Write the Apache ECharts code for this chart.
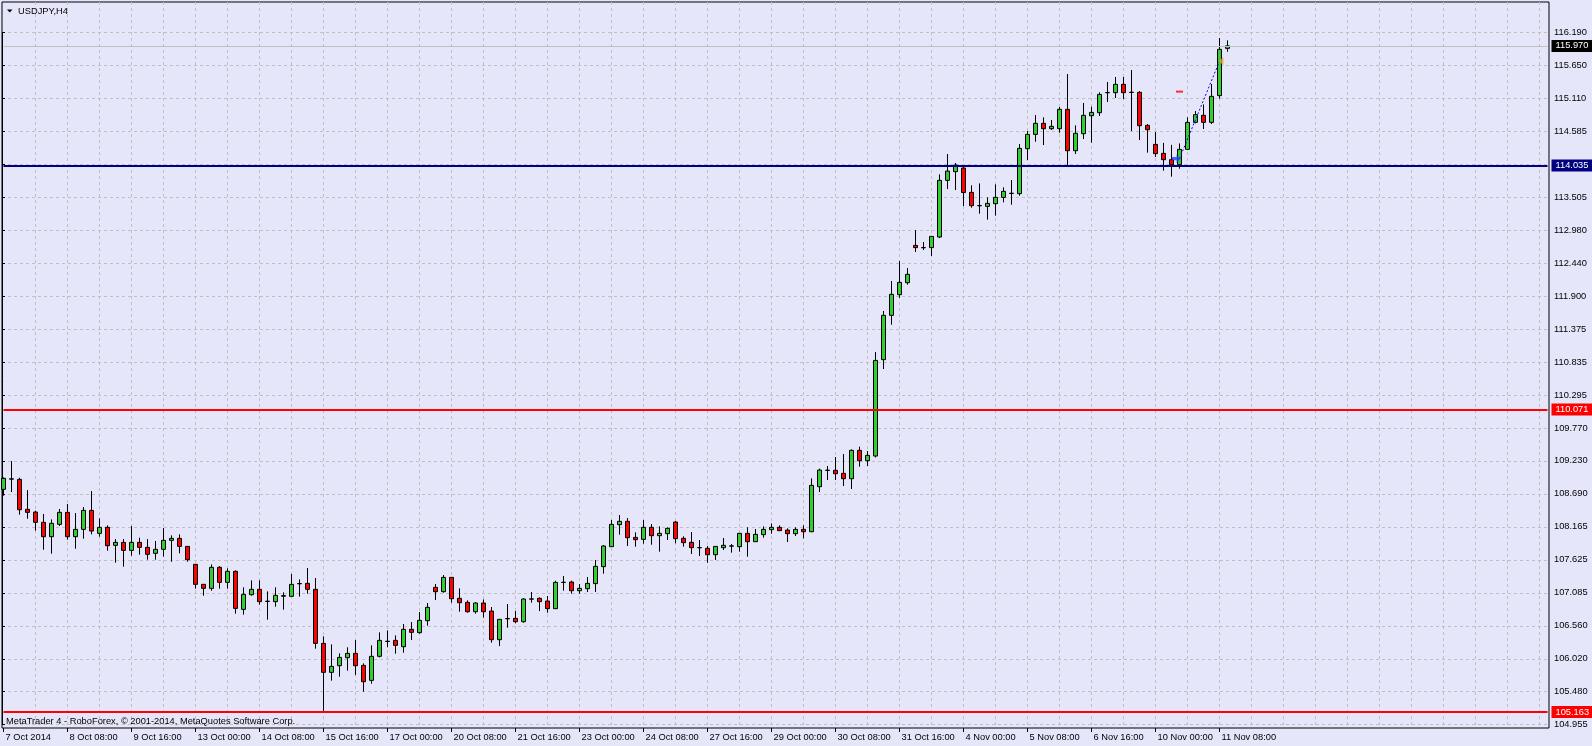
<!DOCTYPE html>
<html><head><meta charset="utf-8">
<script src="https://cdn.jsdelivr.net/npm/echarts@6/dist/echarts.min.js"></script>
<style>html,body{margin:0;padding:0;background:#E6E6FA;}#c{width:1592px;height:746px;}</style>
</head><body><div id="c"></div>
<script>
const symbolName = 'USDJPY,H4';
const footerText = 'MetaTrader 4 - RoboForex, \u00A9 2001-2014, MetaQuotes Software Corp.';

const xTickLabels = ['7 Oct 2014','8 Oct 08:00','9 Oct 16:00','13 Oct 00:00','14 Oct 08:00','15 Oct 16:00','17 Oct 00:00','20 Oct 08:00','21 Oct 16:00','23 Oct 00:00','24 Oct 08:00','27 Oct 16:00','29 Oct 00:00','30 Oct 08:00','31 Oct 16:00','4 Nov 00:00','5 Nov 08:00','6 Nov 16:00','10 Nov 00:00','11 Nov 08:00'];
const yTickLabels = ['104.955','105.480','106.020','106.560','107.085','107.625','108.165','108.690','109.230','109.770','110.295','110.835','111.375','111.900','112.440','112.980','113.505','114.045','114.585','115.110','115.650','116.190'];

const openP = [108.774,108.940,108.936,108.450,108.406,108.239,108.006,108.206,108.401,108.006,108.125,108.433,108.060,108.158,107.866,107.914,107.784,107.914,107.833,107.736,107.801,107.947,107.979,107.849,
107.557,107.233,107.168,107.509,107.265,107.444,106.827,107.065,107.152,106.955,106.952,107.040,107.038,107.242,107.249,107.152,106.275,105.805,105.913,106.043,106.113,105.918,105.675,106.065,106.306,106.324,
106.221,106.503,106.449,106.643,107.184,107.114,107.346,107.006,106.941,106.789,106.930,106.800,106.335,106.674,106.681,106.627,106.993,107.006,106.962,106.838,107.263,107.271,107.130,107.162,107.244,107.520,
107.844,108.201,108.255,107.995,107.963,108.158,108.022,108.055,108.244,107.979,107.914,107.826,107.817,107.714,107.828,107.853,107.844,108.060,107.925,108.039,108.120,108.158,108.114,108.055,108.125,108.087,
108.817,109.081,109.083,109.034,108.947,109.407,109.239,109.315,110.878,111.598,111.933,112.127,112.733,112.694,112.696,112.868,113.788,113.929,113.988,113.593,113.375,113.366,113.409,113.512,113.575,113.572,
114.302,114.534,114.713,114.626,114.626,114.940,114.269,114.545,114.837,114.886,115.209,115.211,115.346,115.214,115.216,114.680,114.372,114.226,114.123,114.042,114.291,114.729,114.843,114.729,115.162,115.930];
const closeP = [108.953,108.945,108.444,108.401,108.239,108.006,108.223,108.401,108.006,108.125,108.433,108.098,108.158,107.860,107.914,107.784,107.914,107.833,107.720,107.801,107.947,107.979,107.849,107.633,
107.233,107.168,107.509,107.265,107.444,106.843,107.071,107.152,106.952,106.960,107.054,107.050,107.233,107.246,107.152,106.275,105.805,105.902,106.048,106.113,105.913,105.653,106.065,106.324,106.310,106.243,
106.503,106.454,106.649,106.860,107.114,107.346,107.000,106.935,106.789,106.930,106.789,106.335,106.665,106.678,106.627,106.995,106.997,106.952,106.838,107.265,107.267,107.130,107.168,107.249,107.525,107.855,
108.206,108.255,107.990,107.958,108.158,108.022,108.060,108.141,107.974,107.909,107.828,107.830,107.714,107.849,107.866,107.857,108.060,107.925,108.044,108.125,108.158,108.104,108.055,108.125,108.087,108.839,
109.088,109.085,109.028,108.947,109.407,109.239,109.326,110.867,111.598,111.938,112.133,112.263,112.696,112.698,112.879,113.788,113.939,114.037,113.590,113.377,113.379,113.415,113.512,113.610,113.579,114.307,
114.534,114.713,114.626,114.664,114.940,114.269,114.551,114.843,114.891,115.183,115.213,115.346,115.211,115.218,114.675,114.610,114.221,114.123,114.042,114.291,114.729,114.854,114.729,115.151,115.914,115.970];
const lowP = [108.671,108.731,108.363,108.298,108.104,107.795,107.730,108.179,107.958,107.811,107.974,108.044,108.006,107.779,107.584,107.519,107.698,107.714,107.633,107.633,107.682,107.600,107.736,107.600,
107.163,107.049,107.130,107.163,107.163,106.757,106.741,107.049,106.903,106.659,106.870,106.822,107.033,107.033,107.081,106.189,105.180,105.670,105.735,105.832,105.762,105.491,105.621,106.048,106.211,106.108,
106.124,106.330,106.432,106.562,106.979,107.098,106.935,106.789,106.773,106.757,106.692,106.286,106.232,106.530,106.600,106.611,106.935,106.800,106.773,106.835,107.130,107.081,107.081,107.108,107.108,107.406,
107.844,108.039,107.855,107.844,107.893,107.876,107.763,107.952,107.898,107.844,107.725,107.692,107.584,107.628,107.790,107.747,107.763,107.682,107.920,107.990,108.055,108.098,107.920,108.017,107.979,108.080,
108.731,108.926,108.926,108.828,108.780,109.142,109.153,109.293,110.727,111.446,111.884,112.095,112.625,112.658,112.560,112.852,113.647,113.631,113.372,113.344,113.247,113.150,113.215,113.431,113.393,113.539,
114.118,114.415,114.361,114.605,114.561,114.037,114.215,114.459,114.399,114.832,115.059,115.124,115.108,114.588,114.442,114.237,114.167,113.945,113.848,113.977,114.280,114.713,114.621,114.702,115.113,115.876];
const highP = [108.969,109.234,108.963,108.763,108.428,108.374,108.287,108.455,108.536,108.390,108.487,108.747,108.304,108.190,107.968,107.968,108.179,107.990,107.968,107.936,108.147,108.028,108.044,107.855,
107.565,107.238,107.557,107.530,107.492,107.460,107.184,107.298,107.298,107.119,107.184,107.103,107.400,107.314,107.498,107.335,106.389,106.259,106.113,106.211,106.330,105.951,106.243,106.454,106.486,106.405,
106.589,106.622,106.784,106.930,107.238,107.384,107.352,107.168,106.973,106.941,106.989,106.865,106.670,106.914,106.800,107.006,107.108,107.022,107.043,107.292,107.368,107.292,107.238,107.352,107.628,107.871,
108.277,108.358,108.309,108.077,108.277,108.212,108.174,108.158,108.260,108.012,108.082,107.952,107.855,107.855,107.985,107.887,108.065,108.158,108.131,108.174,108.222,108.190,108.141,108.158,108.190,108.953,
109.110,109.153,109.299,109.347,109.423,109.467,109.396,111.002,111.668,112.155,112.479,112.365,112.982,112.787,112.885,113.885,114.215,114.070,114.021,113.707,113.739,113.512,113.723,113.674,113.794,114.377,
114.588,114.848,114.810,114.767,114.978,115.513,114.680,115.043,114.983,115.216,115.384,115.465,115.465,115.578,115.238,114.702,114.572,114.396,114.364,114.388,114.810,114.913,115.021,115.351,116.097,116.060];

const levelNavy = 114.035;
const levelsRed = [110.071, 105.163];
const bidPrice = 115.970;
const tradeOpen = [147, 114.14];
const tradeClose = [152, 115.72];
const tpMark = [147, 115.228];

const slotCount = 194;
const yViewMin = 104.902, yViewMax = 116.682;

// bar times (H4, weekdays only) starting 7 Oct 2014 00:00
const months = ['Jan','Feb','Mar','Apr','May','Jun','Jul','Aug','Sep','Oct','Nov','Dec'];
const categories = [];
let t = Date.UTC(2014, 9, 7, 0, 0);
while (categories.length < slotCount) {
  const d = new Date(t);
  const wd = d.getUTCDay();
  if (wd !== 0 && wd !== 6) {
    const h = d.getUTCHours();
    categories.push(d.getUTCDate() + ' ' + months[d.getUTCMonth()] + ' ' + (h < 10 ? '0' : '') + h + ':00');
  }
  t += 4 * 3600 * 1000;
}

const candleData = openP.map((o, i) => [o, closeP[i], lowP[i], highP[i]]);
const yMin = parseFloat(yTickLabels[0]);
const yMax = parseFloat(yTickLabels[yTickLabels.length - 1]);
const yStep = (yMax - yMin) / (yTickLabels.length - 1);
const lastLabelIdx = (xTickLabels.length - 1) * 8;

const F = '"Liberation Sans", Arial, sans-serif';
const FS = 9.3;
const gridDash = [3, 3];

const chart = echarts.init(document.getElementById('c'), null, {renderer: 'canvas'});
const labelShowFn = (i) => i % 8 === 0 && i <= lastLabelIdx;

function levelItem(value, color, width, bg) {
  return {yAxis: value, lineStyle: {color: color, width: width, type: 'solid'},
    label: {backgroundColor: bg, formatter: value.toFixed(3)}};
}

chart.setOption({
  animation: false,
  backgroundColor: '#E6E6FA',
  title: [
    {text: symbolName, left: 18, top: 6, padding: 0, textStyle: {fontSize: FS, fontWeight: 'normal', color: '#000', fontFamily: F, lineHeight: 10}},
    {text: footerText, left: 6, top: 715, padding: 0, textStyle: {fontSize: FS, fontWeight: 'normal', color: '#000', fontFamily: F, lineHeight: 12}}
  ],
  graphic: [{type: 'polygon', shape: {points: [[7, 9.5], [12.5, 9.5], [9.75, 12.5]]}, style: {fill: '#000'}}],
  grid: [
    {left: 3.5, right: 44.5, top: 2, bottom: 18},
    {left: 2, right: 43, top: 32.3, bottom: 21.3},
    {left: 2, right: 43, top: 2, bottom: 18, show: true, borderColor: '#000', borderWidth: 1, backgroundColor: 'transparent'}
  ],
  xAxis: [
    {
      gridIndex: 0, type: 'category', data: categories, boundaryGap: false,
      axisLine: {show: false},
      axisTick: {show: true, interval: labelShowFn, length: 4, lineStyle: {color: '#000'}},
      axisLabel: {interval: labelShowFn, formatter: (v, i) => (i % 8 === 0 ? (xTickLabels[i / 8] || '') : ''), align: 'left', margin: 5, padding: [0, 0, 0, 2], fontSize: FS, color: '#000', fontFamily: F},
      splitLine: {show: true, interval: (i) => i > 0 && i % 4 === 0, lineStyle: {color: '#C0C0C0', width: 1, type: gridDash}}
    },
    {gridIndex: 1, type: 'value', show: false},
    {gridIndex: 2, type: 'value', show: false}
  ],
  yAxis: [
    {gridIndex: 0, type: 'value', min: yViewMin, max: yViewMax, show: false, splitLine: {show: false}},
    {
      gridIndex: 1, type: 'value', position: 'right', min: yMin, max: yMax, interval: yStep,
      axisLine: {show: true, lineStyle: {color: '#000'}},
      axisTick: {show: true, length: 3, lineStyle: {color: '#000'}},
      axisLabel: {margin: 5, fontSize: FS, color: '#000', fontFamily: F, formatter: (v) => yTickLabels[Math.round((v - yMin) / yStep)]},
      splitLine: {show: true, lineStyle: {color: '#C0C0C0', width: 1, type: gridDash}}
    },
    {gridIndex: 2, type: 'value', show: false}
  ],
  series: [
    {
      type: 'candlestick', xAxisIndex: 0, yAxisIndex: 0, data: candleData, barWidth: 4, clip: false, silent: true,
      itemStyle: {color: '#32CD32', color0: '#FF0000', borderColor: '#000', borderColor0: '#000', borderColorDoji: '#000', borderWidth: 1},
      markLine: {
        symbol: 'none', silent: true, animation: false,
        label: {show: true, position: 'end', distance: 4, color: '#fff', fontSize: FS, fontFamily: F, padding: [2, 4, 1, 4]},
        data: [
          levelItem(bidPrice, '#C0C0C0', 1, '#000'),
          levelItem(levelNavy, '#000080', 2, '#000080'),
          levelItem(levelsRed[0], '#FF0000', 2, '#FF0000'),
          levelItem(levelsRed[1], '#FF0000', 2, '#FF0000')
        ]
      }
    },
    {type: 'line', xAxisIndex: 0, yAxisIndex: 0, data: [tradeOpen, tradeClose], symbol: 'none', silent: true, z: 4,
      lineStyle: {color: '#0000FF', width: 1, type: [2, 2]}},
    {type: 'scatter', xAxisIndex: 0, yAxisIndex: 0, data: [tpMark], symbol: 'rect', symbolSize: [7, 2], silent: true, z: 5,
      itemStyle: {color: '#FF0000'}},
    {type: 'scatter', xAxisIndex: 0, yAxisIndex: 0, data: [tradeOpen], symbol: 'path://M0,3 L5,3 L5,0 L10,5 L5,10 L5,7 L0,7 Z', symbolSize: [9, 8], symbolOffset: [-3, 0], silent: true, z: 5,
      itemStyle: {color: '#1E46FF'}},
    {type: 'scatter', xAxisIndex: 0, yAxisIndex: 0, data: [tradeClose], symbol: 'triangle', symbolRotate: 90, symbolSize: [8, 5], symbolOffset: [1.5, 0], silent: true, z: 5,
      itemStyle: {color: '#E8A33A'}}
  ]
});
</script>
</body></html>
